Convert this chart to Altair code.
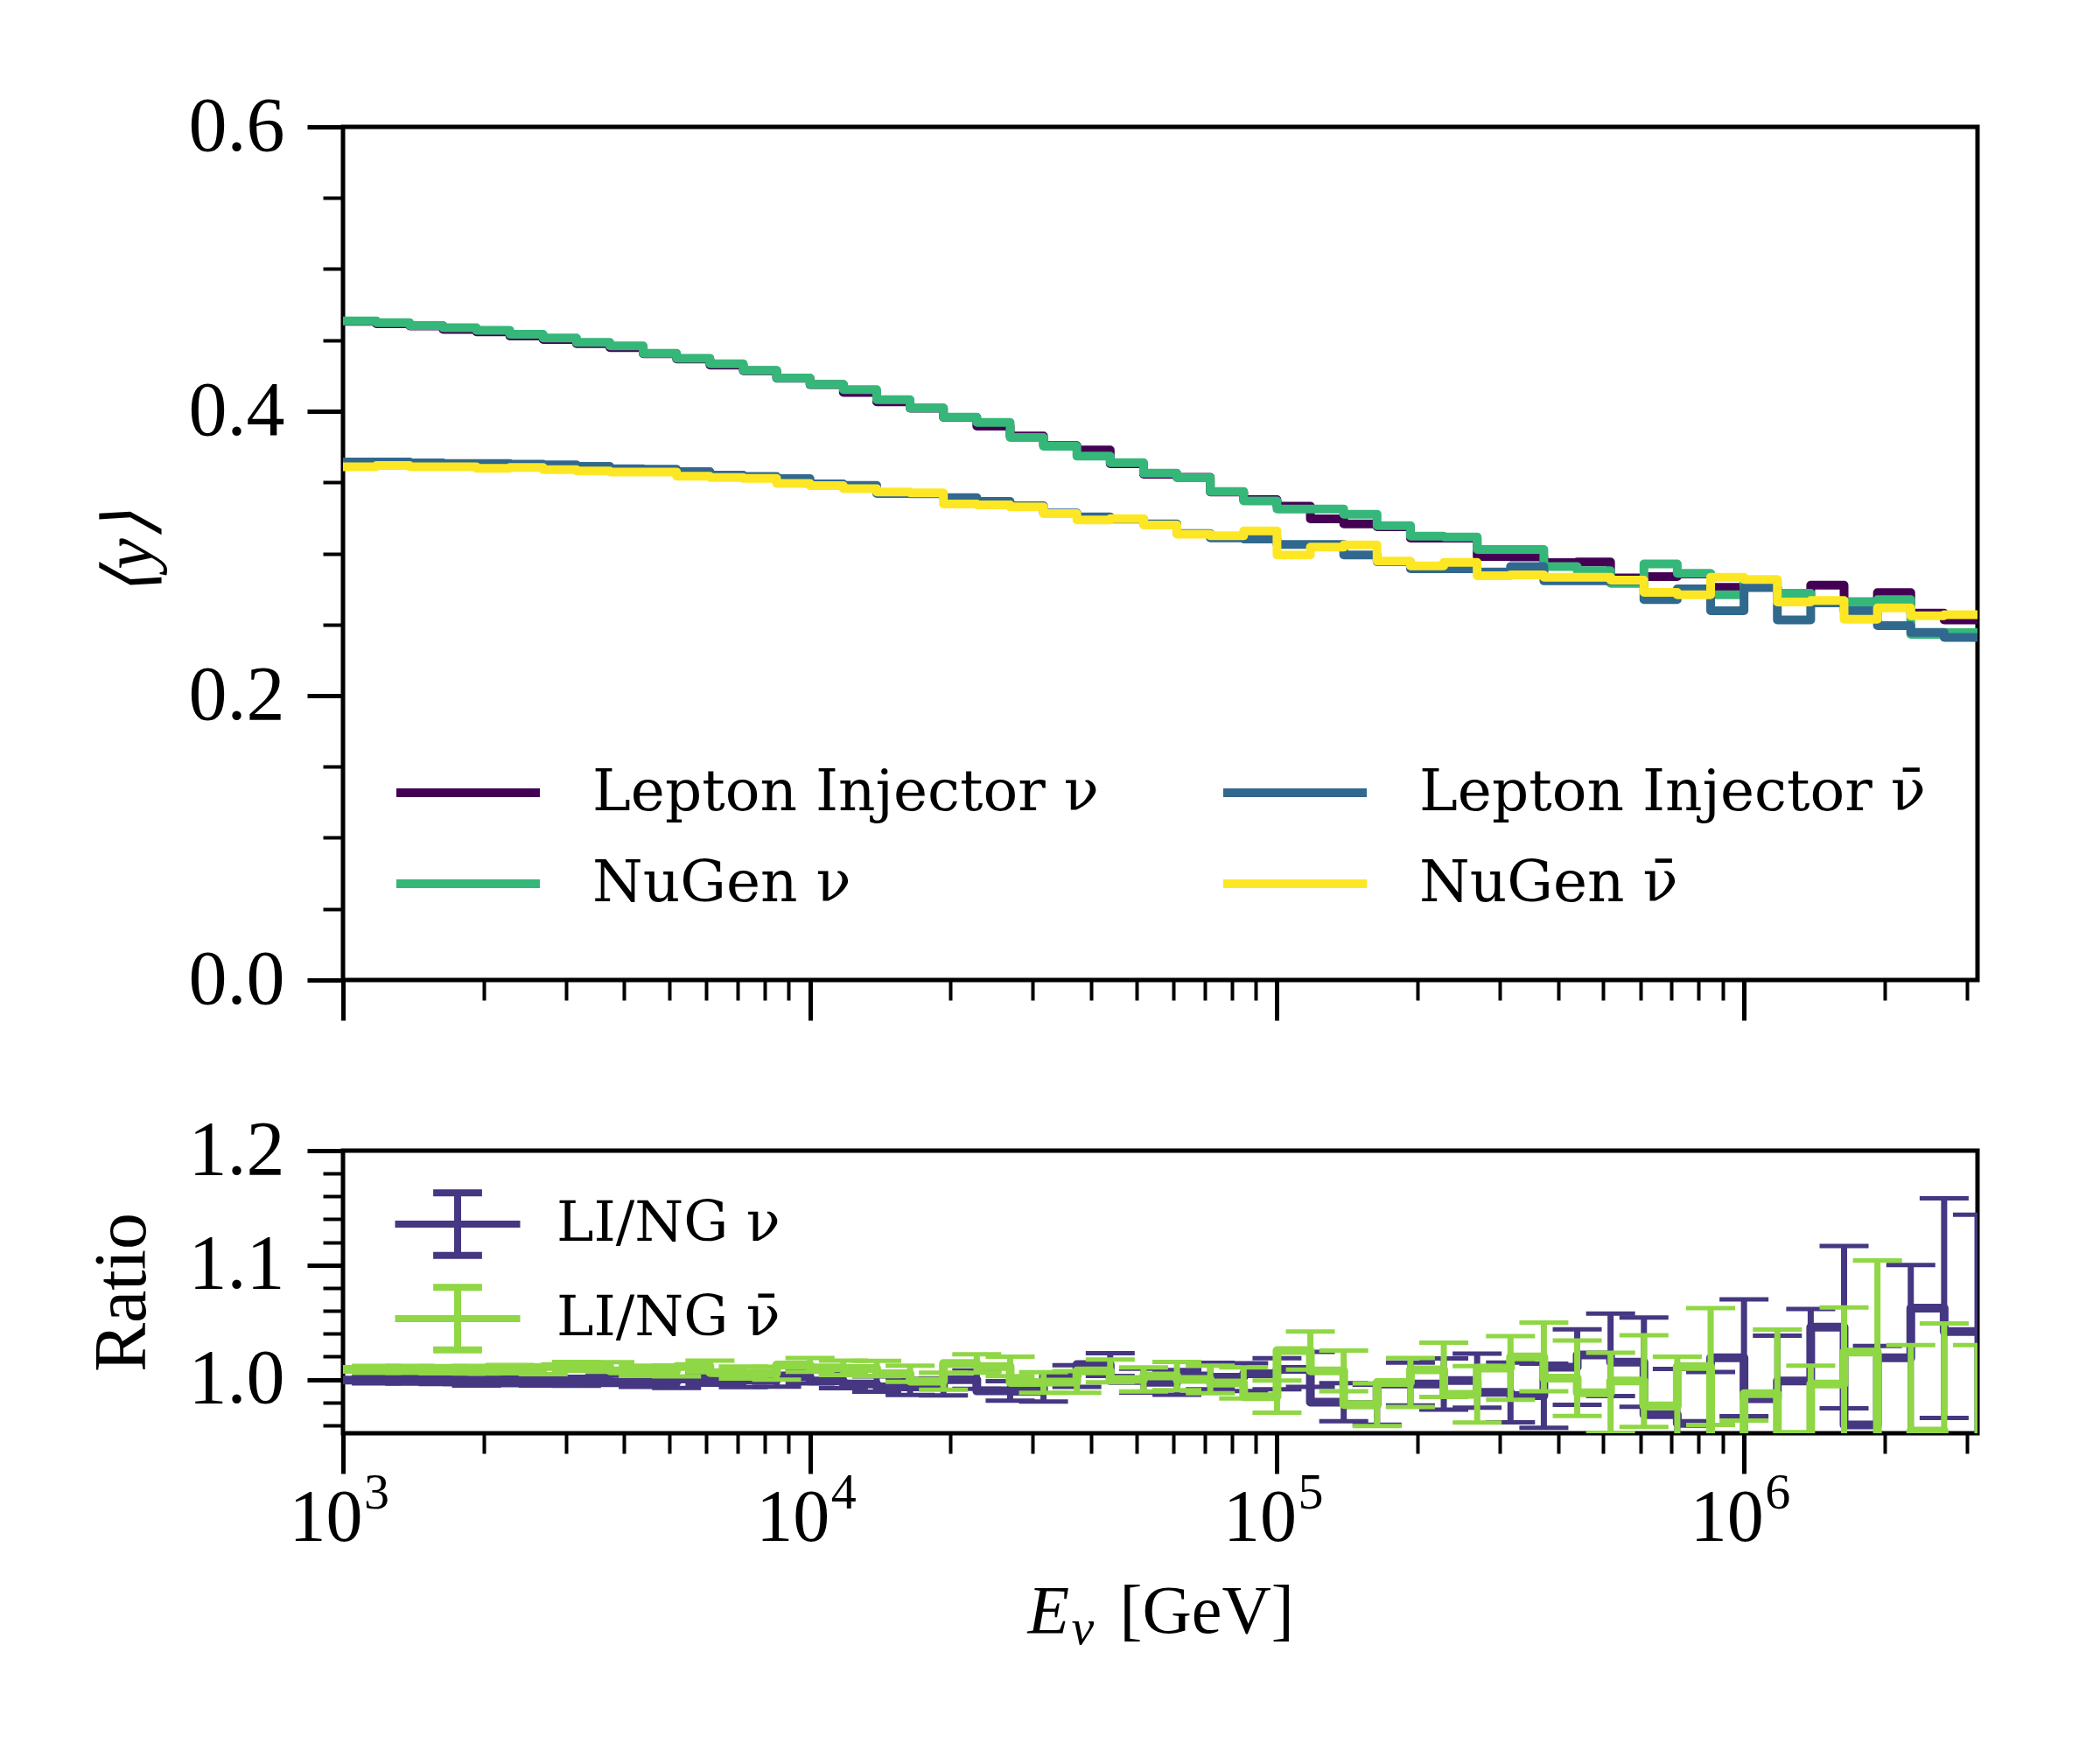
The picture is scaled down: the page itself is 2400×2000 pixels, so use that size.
import numpy as np
import pandas as pd
import altair as alt

# ---------------- data ----------------
# 49 log bins, 14 per decade, from 1e3 to 10^6.5 GeV
E_EDGES = np.logspace(3, 6.5, 50)

LI_NU = [0.4633, 0.4615, 0.4600, 0.4575, 0.4558, 0.4530, 0.4505, 0.4475, 0.4448, 0.4405,
         0.4368, 0.4325, 0.4285, 0.4232, 0.4187, 0.4133, 0.4066, 0.4021, 0.3957, 0.3895,
         0.3826, 0.3758, 0.3727, 0.3631, 0.3557, 0.3535, 0.3432, 0.3378, 0.3333, 0.3243,
         0.3208, 0.3188, 0.3108, 0.3108, 0.2978, 0.2975, 0.2936, 0.2940, 0.2827, 0.2837,
         0.2855, 0.2761, 0.2761, 0.2690, 0.2777, 0.2660, 0.2724, 0.2580, 0.2533]
NG_NU = [0.4636, 0.4623, 0.4603, 0.4587, 0.4570, 0.4542, 0.4515, 0.4484, 0.4460, 0.4408,
         0.4373, 0.4334, 0.4288, 0.4234, 0.4189, 0.4152, 0.4082, 0.4023, 0.3959, 0.3922,
         0.3815, 0.3754, 0.3684, 0.3639, 0.3564, 0.3532, 0.3436, 0.3370, 0.3313, 0.3313,
         0.3276, 0.3196, 0.3122, 0.3116, 0.3028, 0.3028, 0.2907, 0.2878, 0.2790, 0.2926,
         0.2860, 0.2710, 0.2800, 0.2720, 0.2658, 0.2658, 0.2675, 0.2431, 0.2443]
LI_NUBAR = [0.3643, 0.3643, 0.3637, 0.3633, 0.3633, 0.3627, 0.3623, 0.3612, 0.3596, 0.3592,
            0.3575, 0.3551, 0.3541, 0.3526, 0.3489, 0.3479, 0.3422, 0.3420, 0.3393, 0.3366,
            0.3335, 0.3284, 0.3257, 0.3241, 0.3207, 0.3140, 0.3110, 0.3101, 0.3063, 0.3063,
            0.2989, 0.2942, 0.2892, 0.2892, 0.2870, 0.2908, 0.2807, 0.2808, 0.2810, 0.2675,
            0.2751, 0.2597, 0.2761, 0.2533, 0.2652, 0.2597, 0.2492, 0.2445, 0.2410]
NG_NUBAR = [0.3610, 0.3618, 0.3610, 0.3610, 0.3598, 0.3604, 0.3590, 0.3580, 0.3573, 0.3573,
            0.3543, 0.3534, 0.3527, 0.3493, 0.3477, 0.3456, 0.3432, 0.3426, 0.3348, 0.3342,
            0.3327, 0.3280, 0.3235, 0.3245, 0.3200, 0.3135, 0.3124, 0.3159, 0.2990, 0.3044,
            0.3060, 0.2946, 0.2913, 0.2937, 0.2843, 0.2850, 0.2833, 0.2833, 0.2812, 0.2726,
            0.2710, 0.2833, 0.2817, 0.2658, 0.2669, 0.2537, 0.2617, 0.2562, 0.2570]

RATIO_NU = [0.9995, 0.9995, 0.9993, 0.9980, 0.9986, 0.9984, 0.9984, 0.9994, 0.9980, 0.9974,
            1.0004, 0.9986, 0.9994, 1.0025, 0.9986, 0.9961, 0.9935, 0.9935, 0.9999, 0.9900,
            0.9897, 1.0030, 1.0130, 0.9990, 0.9975, 1.0030, 1.0020, 1.0050, 1.0088, 0.9802,
            0.9780, 0.9960, 0.9960, 0.9990, 0.9887, 0.9858, 1.0108, 1.0215, 1.0151, 0.9693,
            0.9616, 1.0190, 0.9833, 0.9986, 1.0457, 0.9603, 1.0190, 1.0623, 1.0419]
RATIO_NU_ERR = [0.0030, 0.0031, 0.0032, 0.0034, 0.0036, 0.0038, 0.0040, 0.0042, 0.0045, 0.0048,
                0.0050, 0.0053, 0.0056, 0.0060, 0.0063, 0.0067, 0.0071, 0.0075, 0.0080, 0.0085,
                0.0090, 0.0095, 0.0100, 0.0104, 0.0108, 0.0115, 0.0121, 0.0136, 0.0153, 0.0166,
                0.0175, 0.0187, 0.0223, 0.0236, 0.0261, 0.0280, 0.0330, 0.0360, 0.0390, 0.0400,
                0.0450, 0.0510, 0.0550, 0.0630, 0.0710, 0.0690, 0.0810, 0.0960, 0.1020]
RATIO_NUBAR = [1.0088, 1.0088, 1.0085, 1.0085, 1.0090, 1.0085, 1.0114, 1.0110, 1.0075, 1.0075,
               1.0114, 1.0060, 1.0055, 1.0127, 1.0101, 1.0096, 1.0050, 0.9985, 1.0140, 1.0114,
               0.9974, 0.9978, 1.0075, 1.0000, 1.0030, 1.0000, 0.9970, 0.9850, 1.0253, 1.0075,
               0.9780, 0.9973, 1.0085, 0.9870, 1.0100, 1.0197, 1.0011, 0.9884, 0.9986, 0.9769,
               1.0113, 0.9180, 0.9876, 0.9520, 0.9960, 1.0240, 0.9490, 0.9550, 0.9380]
RATIO_NUBAR_ERR = [0.0030, 0.0031, 0.0032, 0.0034, 0.0036, 0.0038, 0.0040, 0.0042, 0.0045, 0.0048,
                   0.0050, 0.0053, 0.0056, 0.0060, 0.0063, 0.0067, 0.0071, 0.0075, 0.0080, 0.0085,
                   0.0090, 0.0095, 0.0100, 0.0105, 0.0124, 0.0120, 0.0136, 0.0140, 0.0166, 0.0178,
                   0.0186, 0.0214, 0.0237, 0.0246, 0.0278, 0.0300, 0.0330, 0.0350, 0.0400, 0.0430,
                   0.0510, 0.0460, 0.0560, 0.0600, 0.0670, 0.0800, 0.0810, 0.0940, 0.0920]

# legend order (Vega fills the two columns top-to-bottom)
SERIES = ["Lepton Injector ν", "NuGen ν", "Lepton Injector ν\u0304", "NuGen ν\u0304"]
SERIES_COLORS = ["#440154", "#35b779", "#31688e", "#fde725"]
RATIO_SERIES = ["LI/NG ν", "LI/NG ν\u0304"]
RATIO_COLORS = ["#453781", "#8fd744"]

X_MAJOR = [1e3, 1e4, 1e5, 1e6]
X_EXPONENTS = ["3", "4", "5", "6"]
X_MINOR = [m * 10 ** k for k in (3, 4, 5) for m in range(2, 10)] + [2e6, 3e6]
Y_MAJOR = [0.0, 0.2, 0.4, 0.6]
Y_MINOR = [0.05, 0.1, 0.15, 0.25, 0.3, 0.35, 0.45, 0.5, 0.55]
R_MAJOR = [1.0, 1.1, 1.2]
R_MINOR = [0.96, 0.98, 1.02, 1.04, 1.06, 1.08, 1.12, 1.14, 1.16, 1.18]

# x-axis title pieces: E (italic), subscript ν, [GeV]
XT_MAIN, XT_SUB, XT_UNIT = "E", "ν", "[GeV]"

# ---------------- style ----------------
FONT = "Liberation Serif"
LEG_FONT = "DejaVu Serif"
W = 1868
H_TOP = 975
H_RAT = 323
MAJ = 46
MIN = 23
TICK_FS = 88

xscale = alt.Scale(type="log", domain=[1e3, 10 ** 6.5], nice=False)
yscale = alt.Scale(domain=[0.0, 0.6], nice=False, zero=False)
rscale = alt.Scale(domain=[0.953, 1.2], nice=False, zero=False)
cscale = alt.Scale(domain=SERIES, range=SERIES_COLORS)
rcscale = alt.Scale(domain=RATIO_SERIES, range=RATIO_COLORS)

EXP_EXPR = ("datum.value < 5000 ? '%s' : datum.value < 50000 ? '%s' : "
            "datum.value < 500000 ? '%s' : '%s'" % tuple(X_EXPONENTS))


def major_axis(orient, values, size, labels=True, title=None, fmt=None, expr=None,
               tpad=14, tfs=80, tstyle="normal", loff=0, lfs=TICK_FS, extra=None):
    kw = dict(orient=orient, values=values, tickSize=size, tickWidth=5, tickColor="black",
              domain=False, grid=False, labels=labels, title=title, labelFont=FONT,
              labelFontSize=lfs, labelColor="black", labelFlush=False, labelOverlap=False,
              labelPadding=26 if orient == "left" else 10, labelOffset=loff,
              titleFont=FONT, titleFontSize=tfs, titleFontStyle=tstyle,
              titleFontWeight="normal", titleColor="black", titlePadding=tpad)
    if fmt:
        kw["format"] = fmt
    if expr:
        kw["labelExpr"] = expr
    if extra:
        kw.update(extra)
    return alt.Axis(**kw)


def minor_axis(orient, values, extra=None):
    kw = dict(orient=orient, values=values, tickSize=MIN, tickWidth=4, tickColor="black",
              domain=False, grid=False, labels=False, title=None)
    if extra:
        kw.update(extra)
    return alt.Axis(**kw)


def title_part(text, x, y, size, style):
    return dict(title=text, titleX=x, titleY=y, titleAlign="left", titleBaseline="alphabetic",
                titleAngle=0, titleFont=FONT, titleFontSize=size, titleFontStyle=style,
                titleFontWeight="normal", titleColor="black")


# ---------------- top panel ----------------
def step_df(vals, name):
    return pd.DataFrame({"E": list(E_EDGES), "y": list(vals) + [vals[-1]], "series": name})


top_legend = alt.Legend(title=None, orient="none", legendX=110, legendY=728, columns=2,
                        columnPadding=122, rowPadding=38, symbolType="M-3,0H3",
                        symbolSize=2988, symbolStrokeWidth=10, labelFont=LEG_FONT,
                        labelFontSize=66, labelColor="black", labelOffset=109,
                        labelLimit=2000, padding=0)

top_layers = []
draw_order = [(LI_NU, SERIES[0]), (NG_NU, SERIES[1]), (LI_NUBAR, SERIES[2]), (NG_NUBAR, SERIES[3])]
for i, (vals, name) in enumerate(draw_order):
    first = i == 0
    layer = alt.Chart(step_df(vals, name)).mark_line(
        interpolate="step-after", strokeWidth=10, strokeJoin="round"
    ).encode(
        x=alt.X("E:Q", scale=xscale,
                axis=major_axis("bottom", X_MAJOR, MAJ, labels=False) if first else None),
        y=alt.Y("y:Q", scale=yscale,
                axis=major_axis("left", Y_MAJOR, 41, title="⟨y⟩", fmt=".1f", tpad=25,
                                tstyle="italic") if first else None),
        color=alt.Color("series:N", scale=cscale, legend=top_legend),
    )
    top_layers.append(layer)

top_minor = alt.Chart(pd.DataFrame({"E": X_MINOR[:9], "y": Y_MINOR})).mark_point(opacity=0).encode(
    x=alt.X("E:Q", scale=xscale, axis=minor_axis("bottom", X_MINOR)),
    y=alt.Y("y:Q", scale=yscale, axis=minor_axis("left", Y_MINOR)),
)

top = alt.layer(*top_layers, top_minor).resolve_axis(x="independent", y="independent").properties(
    width=W, height=H_TOP)

# ---------------- ratio panel ----------------
def ratio_line_df(vals, name):
    return pd.DataFrame({"E": list(E_EDGES), "r": [vals[0]] + list(vals), "series": name})


def ratio_err_df(vals, errs):
    v = np.array(vals)
    e = np.array(errs)
    return pd.DataFrame({"E": E_EDGES[1:], "lo": v - e, "hi": v + e})


rat_legend = alt.Legend(title=None, orient="none", legendX=91, legendY=44, columns=1,
                        rowPadding=4,
                        symbolType="M-2,0H2M0,-1V1M-0.78,-1H0.78M-0.78,1H0.78",
                        symbolSize=5112, symbolStrokeWidth=8, labelFont=LEG_FONT,
                        labelFontSize=64, labelColor="black", labelOffset=73,
                        labelLimit=2000, padding=0)

rat_layers = []
for i, (vals, errs, name, col) in enumerate([(RATIO_NU, RATIO_NU_ERR, RATIO_SERIES[0], RATIO_COLORS[0]),
                                             (RATIO_NUBAR, RATIO_NUBAR_ERR, RATIO_SERIES[1], RATIO_COLORS[1])]):
    first = i == 0
    line = alt.Chart(ratio_line_df(vals, name)).mark_line(
        interpolate="step-before", strokeWidth=10, strokeJoin="round", clip=True
    ).encode(
        x=alt.X("E:Q", scale=xscale,
                axis=major_axis("bottom", X_MAJOR, MAJ, expr="'10'", loff=-20, lfs=84,
                                extra=title_part(XT_MAIN, 782, 227, 78, "italic"))
                if first else None),
        y=alt.Y("r:Q", scale=rscale,
                axis=major_axis("left", R_MAJOR, 41, title="Ratio", fmt=".1f", tpad=32,
                                tfs=84) if first else None),
        color=alt.Color("series:N", scale=rcscale, legend=rat_legend),
    )
    edf = ratio_err_df(vals, errs)
    bars = alt.Chart(edf).mark_rule(strokeWidth=7, clip=True, color=col, opacity=1).encode(
        x=alt.X("E:Q", scale=xscale, axis=None),
        y=alt.Y("lo:Q", scale=rscale, axis=None),
        y2="hi:Q",
    )
    cap_lo = alt.Chart(edf).mark_tick(orient="horizontal", size=56, thickness=5, clip=True,
                                      color=col, opacity=1).encode(
        x=alt.X("E:Q", scale=xscale, axis=None),
        y=alt.Y("lo:Q", scale=rscale, axis=None),
    )
    cap_hi = alt.Chart(edf).mark_tick(orient="horizontal", size=56, thickness=5, clip=True,
                                      color=col, opacity=1).encode(
        x=alt.X("E:Q", scale=xscale, axis=None),
        y=alt.Y("hi:Q", scale=rscale, axis=None),
    )
    rat_layers += [line, bars, cap_lo, cap_hi]

rat_minor = alt.Chart(pd.DataFrame({"E": X_MINOR[:10], "r": R_MINOR})).mark_point(opacity=0).encode(
    x=alt.X("E:Q", scale=xscale,
            axis=minor_axis("bottom", X_MINOR, extra=title_part(XT_UNIT, 887, 227, 78, "normal"))),
    y=alt.Y("r:Q", scale=rscale, axis=minor_axis("left", R_MINOR)),
)

# exponent labels of the decade ticks (superscripts) + the subscript of the title
rat_exp = alt.Chart(pd.DataFrame({"E": X_MAJOR, "r": [1.0] * 4})).mark_point(opacity=0).encode(
    x=alt.X("E:Q", scale=xscale,
            axis=alt.Axis(orient="bottom", values=X_MAJOR, ticks=False, domain=False, grid=False,
                          labelExpr=EXP_EXPR, labelFont=FONT, labelFontSize=58, labelColor="black",
                          labelOffset=38, labelPadding=39, labelFlush=False, labelOverlap=False,
                          **title_part(XT_SUB, 832, 240, 58, "italic"))),
    y=alt.Y("r:Q", scale=rscale, axis=None),
)

ratio = alt.layer(*rat_layers, rat_minor, rat_exp).resolve_axis(
    x="independent", y="independent").properties(width=W, height=H_RAT)

chart = alt.vconcat(top, ratio, spacing=97).resolve_scale(color="independent").properties(
    padding={"left": 87, "top": 90, "right": 10, "bottom": 10}
).configure(background="white").configure_view(stroke="black", strokeWidth=5)

chart.save("out.html", embed_options={"renderer": "svg", "actions": False})
